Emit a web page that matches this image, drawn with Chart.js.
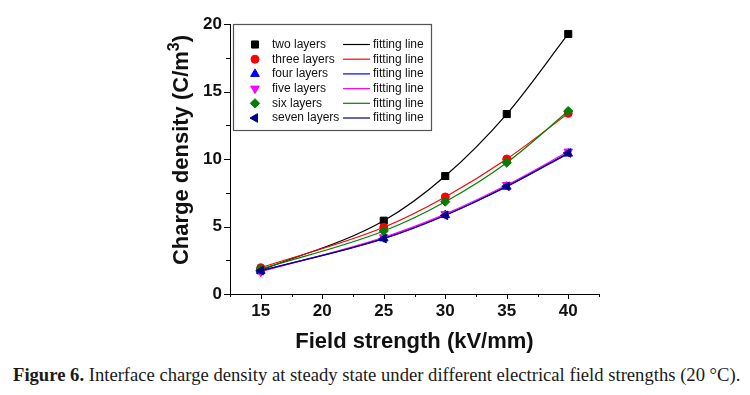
<!DOCTYPE html>
<html>
<head>
<meta charset="utf-8">
<script src="https://cdn.jsdelivr.net/npm/chart.js@4/dist/chart.umd.min.js"></script>
<style>
  html, body { margin: 0; padding: 0; background: #fff; }
  #wrap { position: relative; width: 750px; height: 395px; overflow: hidden; }
  #myChart { position: absolute; left: 0; top: 0; }
  #caption {
    position: absolute; left: 13px; top: 364px; white-space: nowrap;
    font-family: "Liberation Serif", "DejaVu Serif", serif; font-size: 16px; color: #1a1a1a;
  }
</style>
</head>
<body>
<div id="wrap">
  <canvas id="myChart" width="750" height="360"></canvas>
  <div id="caption"><b>Figure 6.</b> Interface charge density at steady state under different electrical field strengths (20 °C).</div>
</div>
<script>
// 電場強度 (kV/mm)
var fieldStrength = [15, 25, 30, 35, 40];

// 各層數的界面電荷密度 (C/m3)
var twoLayers   = [1.75, 5.43, 8.74, 13.33, 19.26];
var threeLayers = [1.95, 4.94, 7.19, 10.0, 13.38];
var fourLayers  = [1.72, 4.12, 5.85, 7.95, 10.4];
var fiveLayers  = [1.65, 4.2, 5.92, 8.07, 10.55];
var sixLayers   = [1.85, 4.67, 6.84, 9.73, 13.55];
var sevenLayers = [1.72, 4.1, 5.82, 7.98, 10.45];

var seriesNames = ['two layers', 'three layers', 'four layers', 'five layers', 'six layers', 'seven layers'];
var yTicks = [0, 5, 10, 15, 20];
var xTicks = [15, 20, 25, 30, 35, 40];

var allSeries = [twoLayers, threeLayers, fourLayers, fiveLayers, sixLayers, sevenLayers];
var markColors = ['#000000', '#ff0000', '#0000ff', '#ff00ff', '#008000', '#000080'];
var lineColors = ['#000000', '#ff0000', '#0000ff', '#ff00ff', '#008000', '#000080'];
var pointStyles = ['rect', 'circle', 'triangle', 'triangle', 'rectRot', 'triangle'];
var pointRots = [0, 0, 0, 180, 0, 270];
var pointRadii = [5, 4, 5, 5, 4.6, 5];

Chart.defaults.font.family = '"Liberation Sans", Arial, sans-serif';
Chart.defaults.color = '#111';

function toPoints(arr) {
    return arr.map(function (v, i) { return { x: fieldStrength[i], y: v }; });
}

var datasets = allSeries.map(function (arr, i) {
    return {
        label: seriesNames[i],
        data: toPoints(arr),
        showLine: true,
        borderColor: lineColors[i],
        borderWidth: 1.2,
        cubicInterpolationMode: 'monotone',
        pointStyle: pointStyles[i],
        pointRotation: pointRots[i],
        pointRadius: pointRadii[i],
        pointBackgroundColor: markColors[i],
        pointBorderColor: markColors[i],
        pointBorderWidth: 1,
        order: 6 - i
    };
});

// 自訂繪製：刻度線、座標軸標題、圖例框
var decoPlugin = {
    id: 'deco',
    afterDraw: function (chart) {
        var ctx = chart.ctx;
        var xs = chart.scales.x, ys = chart.scales.y;
        var area = chart.chartArea;
        ctx.save();
        ctx.strokeStyle = '#000';
        ctx.lineWidth = 1;
        // y 軸刻度
        for (var v = ys.min; v <= ys.max + 0.001; v += 2.5) {
            var py = Math.round(ys.getPixelForValue(v)) + 0.5;
            var len = (v % 5 === 0) ? 6 : 4;
            ctx.beginPath();
            ctx.moveTo(area.left - len, py);
            ctx.lineTo(area.left, py);
            ctx.stroke();
        }
        // x 軸刻度
        for (var u = xs.min; u <= xs.max + 0.001; u += 2.5) {
            var px = Math.round(xs.getPixelForValue(u)) + 0.5;
            var len2 = (u % 5 === 0) ? 5 : 3;
            ctx.beginPath();
            ctx.moveTo(px, area.bottom);
            ctx.lineTo(px, area.bottom + len2);
            ctx.stroke();
        }

        // 座標軸標題
        ctx.fillStyle = '#111';
        ctx.font = 'bold 22px "Liberation Sans", Arial, sans-serif';
        ctx.textAlign = 'center';
        ctx.textBaseline = 'alphabetic';
        ctx.fillText('Field strength (kV/mm)', (area.left + area.right) / 2, 348);

        ctx.save();
        ctx.translate(188, 150);
        ctx.rotate(-Math.PI / 2);
        var t1 = 'Charge density (C/m', t2 = '3', t3 = ')';
        ctx.font = 'bold 22px "Liberation Sans", Arial, sans-serif';
        var w1 = ctx.measureText(t1).width, w3 = ctx.measureText(t3).width;
        ctx.font = 'bold 16px "Liberation Sans", Arial, sans-serif';
        var w2 = ctx.measureText(t2).width;
        var start = -(w1 + w2 + w3) / 2;
        ctx.textAlign = 'left';
        ctx.font = 'bold 22px "Liberation Sans", Arial, sans-serif';
        ctx.fillText(t1, start, 0);
        ctx.fillText(t3, start + w1 + w2, 0);
        ctx.font = 'bold 16px "Liberation Sans", Arial, sans-serif';
        ctx.fillText(t2, start + w1, -9);
        ctx.restore();

        // 圖例框
        var bx = 233.5, by = 24.5, bw = 198, bh = 106;
        ctx.fillStyle = '#fff';
        ctx.fillRect(bx, by, bw, bh);
        ctx.strokeStyle = '#555';
        ctx.lineWidth = 1.2;
        ctx.strokeRect(bx, by, bw, bh);
        ctx.font = '12px "Liberation Sans", Arial, sans-serif';
        ctx.textBaseline = 'middle';
        ctx.textAlign = 'left';
        for (var i = 0; i < seriesNames.length; i++) {
            var ry = 44.5 + i * 14.7;
            ctx.fillStyle = markColors[i];
            ctx.strokeStyle = markColors[i];
            ctx.lineWidth = 1;
            Chart.helpers.drawPoint(ctx, {
                pointStyle: pointStyles[i],
                rotation: pointRots[i],
                radius: pointRadii[i],
                borderWidth: 1
            }, 255, ry);
            ctx.fillStyle = '#111';
            ctx.fillText(seriesNames[i], 272, ry);
            ctx.strokeStyle = lineColors[i];
            ctx.lineWidth = 1.2;
            ctx.beginPath();
            ctx.moveTo(343, ry);
            ctx.lineTo(370, ry);
            ctx.stroke();
            ctx.fillText('fitting line', 373, ry);
        }
        ctx.restore();
    }
};

var myChart = new Chart(document.getElementById('myChart').getContext('2d'), {
    type: 'scatter',
    data: { datasets: datasets },
    options: {
        responsive: false,
        animation: false,
        layout: { padding: { left: 0, top: 24, right: 151, bottom: 0 } },
        scales: {
            x: {
                type: 'linear',
                min: 12.5,
                max: 42.5,
                afterFit: function (scale) { scale.height = 66; },
                afterBuildTicks: function (scale) {
                    scale.ticks = xTicks.map(function (v) { return { value: v }; });
                },
                ticks: {
                    autoSkip: false,
                    maxRotation: 0,
                    padding: 7,
                    color: '#111',
                    font: { size: 17, weight: 'bold' }
                },
                grid: { display: true, drawOnChartArea: false, drawTicks: false },
                border: { display: true, color: '#000', width: 1 }
            },
            y: {
                type: 'linear',
                min: 0,
                max: 20,
                afterFit: function (scale) { scale.width = 230; },
                afterBuildTicks: function (scale) {
                    scale.ticks = yTicks.map(function (v) { return { value: v }; });
                },
                ticks: {
                    autoSkip: false,
                    padding: 8,
                    color: '#111',
                    font: { size: 17, weight: 'bold' }
                },
                grid: { display: true, drawOnChartArea: false, drawTicks: false },
                border: { display: true, color: '#000', width: 1 }
            }
        },
        plugins: {
            legend: { display: false },
            tooltip: { enabled: false },
            title: { display: false }
        }
    },
    plugins: [decoPlugin]
});

// 讓圖說文字寬度與原圖一致
var cap = document.getElementById('caption');
var capW = cap.getBoundingClientRect().width;
cap.style.fontSize = (16 * 728 / capW).toFixed(2) + 'px';
</script>
</body>
</html>
